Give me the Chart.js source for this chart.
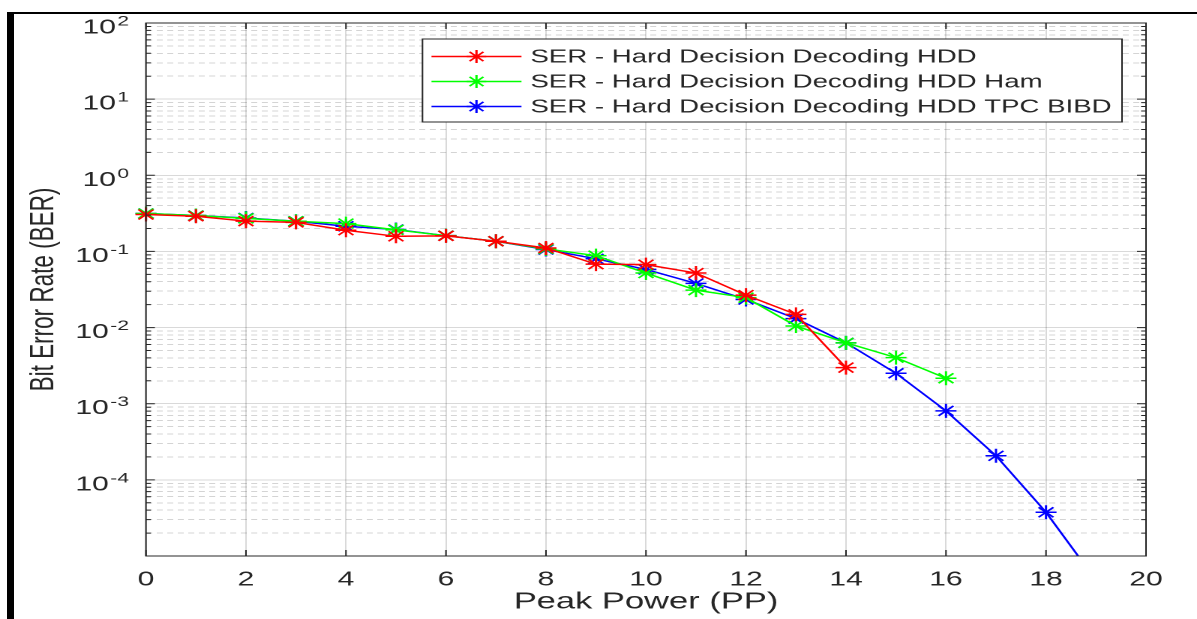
<!DOCTYPE html>
<html>
<head>
<meta charset="utf-8">
<script src="https://cdn.jsdelivr.net/npm/chart.js@4.4.1/dist/chart.umd.min.js"></script>
<style>
  html, body { margin: 0; padding: 0; background: #fff; }
  body { width: 1197px; height: 619px; overflow: hidden; position: relative; }
  .frame { position: absolute; left: 7px; top: 12px; right: 0; bottom: 0;
           border-left: 7px solid #000; border-top: 2px solid #000; }
  #berChart { position: absolute; left: 0; top: 0; transform-origin: 0 0; transform: scaleX(1.5); }
</style>
</head>
<body>
<div class="frame"></div>
<canvas id="berChart" width="798" height="619"></canvas>
<script>
// the original figure is stretched sideways, so draw it narrow and stretch it (see css)

const peakPower = [0, 1, 2, 3, 4, 5, 6, 7, 8, 9, 10, 11, 12, 13, 14, 15, 16, 17, 18, 19];

const berHdd = [0.305, 0.29, 0.25, 0.241, 0.19, 0.158, 0.16, 0.136, 0.111, 0.068, 0.067, 0.052, 0.0267, 0.0149, 0.00298];
const berHam = [0.315, 0.296, 0.272, 0.249, 0.232, 0.192, 0.161, 0.136, 0.108, 0.088, 0.052, 0.031, 0.0247, 0.0105, 0.0063, 0.00403, 0.00216];
const berTpc = [0.315, 0.296, 0.275, 0.249, 0.214, 0.194, 0.161, 0.136, 0.106, 0.080, 0.058, 0.038, 0.0234, 0.0131, 0.0063, 0.00251, 0.000805, 0.000207, 0.0000375, 0.0000048];

const xTicks = [0, 2, 4, 6, 8, 10, 12, 14, 16, 18, 20];
const yDecades = [1e-5, 1e-4, 1e-3, 1e-2, 1e-1, 1e0, 1e1, 1e2];
const yLabelValues = [1e-4, 1e-3, 1e-2, 1e-1, 1e0, 1e1, 1e2];
const yLabelExps = ['-4', '-3', '-2', '-1', '0', '1', '2'];

// 2..9 inside every decade
const yMinor = [];
for (let i = 0; i < yDecades.length - 1; i++) {
    for (let k = 2; k <= 9; k++) yMinor.push(k * yDecades[i]);
}

const fontFam = '"Liberation Sans", Arial, Helvetica, sans-serif';
const axisColor = '#262626';
const gridMajor = 'rgba(0,0,0,0.15)';
const gridMinor = 'rgba(0,0,0,0.17)';

function toPoints(vals) {
    return vals.map((v, i) => ({ x: peakPower[i], y: v }));
}

function drawStar(ctx, cx, cy, r) {
    ctx.beginPath();
    for (let k = 0; k < 4; k++) {
        const a = k * Math.PI / 4;
        ctx.moveTo(cx - r * Math.cos(a), cy - r * Math.sin(a));
        ctx.lineTo(cx + r * Math.cos(a), cy + r * Math.sin(a));
    }
    ctx.stroke();
}

//////////////// box, inward ticks, 10^n labels

const matlabAxes = {
    id: 'matlabAxes',
    afterDatasetsDraw(chart) {
        const { ctx, chartArea: a, scales } = chart;
        const x = scales.x, y = scales.y;
        ctx.save();
        ctx.strokeStyle = axisColor;
        ctx.lineWidth = 1;
        ctx.beginPath();
        xTicks.forEach(v => {
            const px = x.getPixelForValue(v);
            ctx.moveTo(px, a.bottom); ctx.lineTo(px, a.bottom - 6);
            ctx.moveTo(px, a.top); ctx.lineTo(px, a.top + 6);
        });
        yDecades.forEach(v => {
            const py = y.getPixelForValue(v);
            ctx.moveTo(a.left, py); ctx.lineTo(a.left + 6, py);
            ctx.moveTo(a.right, py); ctx.lineTo(a.right - 6, py);
        });
        yMinor.forEach(v => {
            const py = y.getPixelForValue(v);
            ctx.moveTo(a.left, py); ctx.lineTo(a.left + 3.3, py);
            ctx.moveTo(a.right, py); ctx.lineTo(a.right - 3.3, py);
        });
        ctx.stroke();
        ctx.strokeRect(a.left, a.top, a.right - a.left, a.bottom - a.top);

        ctx.fillStyle = axisColor;
        ctx.textBaseline = 'alphabetic';
        ctx.textAlign = 'left';
        const rightEdge = a.left - 11.3;
        yLabelValues.forEach((v, i) => {
            const py = y.getPixelForValue(v);
            ctx.font = '14px ' + fontFam;
            const we = ctx.measureText(yLabelExps[i]).width;
            ctx.fillText(yLabelExps[i], rightEdge - we, py + 2.5);
            ctx.font = '20px ' + fontFam;
            const wb = ctx.measureText('10').width;
            ctx.fillText('10', rightEdge - we - wb - 1, py + 10.5);
        });
        ctx.restore();
    }
};

//////////////// legend in the top right corner

const legendBox = {
    id: 'legendBox',
    afterDraw(chart) {
        const { ctx, chartArea: a } = chart;
        const sets = chart.data.datasets;
        ctx.save();
        ctx.font = '18.4px ' + fontFam;
        const textW = Math.max(...sets.map(d => ctx.measureText(d.label).width));
        const w = 72 + textW + 7, h = 83;
        const left = a.right - 16 - w, top = a.top + 16;
        ctx.fillStyle = '#fff';
        ctx.fillRect(left, top, w, h);
        ctx.strokeStyle = axisColor;
        ctx.lineWidth = 1;
        ctx.strokeRect(left, top, w, h);
        sets.forEach((d, i) => {
            const cy = top + 17.5 + i * 25;
            ctx.strokeStyle = d.borderColor;
            ctx.lineWidth = 1.5;
            ctx.beginPath();
            ctx.moveTo(left + 6, cy); ctx.lineTo(left + 66, cy);
            ctx.stroke();
            drawStar(ctx, left + 36, cy, 6.5);
            ctx.fillStyle = axisColor;
            ctx.textBaseline = 'middle';
            ctx.fillText(d.label, left + 72, cy + 1);
        });
        ctx.restore();
    }
};

function lineSet(label, vals, color) {
    return {
        label: label,
        data: toPoints(vals),
        borderColor: color,
        backgroundColor: color,
        borderWidth: 1.5,
        pointStyle: 'star',
        pointRadius: 7,
        pointBorderWidth: 1.5,
        pointBorderColor: color,
        fill: false,
        tension: 0,
        xAxisID: 'x',
        yAxisID: 'y',
        clip: { left: 12, right: 12, top: 12, bottom: 0 }
    };
}

new Chart(document.getElementById('berChart'), {
    type: 'line',
    data: {
        datasets: [
            lineSet('SER - Hard Decision Decoding HDD', berHdd, '#ff0000'),
            lineSet('SER - Hard Decision Decoding HDD Ham', berHam, '#00ff00'),
            lineSet('SER - Hard Decision Decoding HDD TPC BIBD', berTpc, '#0000ff')
        ]
    },
    options: {
        responsive: false,
        devicePixelRatio: 2,
        animation: false,
        layout: { padding: { left: 0, right: 34, top: 23, bottom: 0 } },
        plugins: {
            legend: { display: false },
            tooltip: { enabled: false }
        },
        scales: {
            x: {
                type: 'linear',
                min: 0,
                max: 20,
                afterBuildTicks: s => { s.ticks = xTicks.map(v => ({ value: v })); },
                grid: { color: gridMajor, drawTicks: false },
                border: { display: false },
                ticks: { padding: 12, color: axisColor, font: { family: fontFam, size: 20 } },
                title: {
                    display: true, text: 'Peak Power (PP)', color: axisColor,
                    font: { family: fontFam, size: 23 }, padding: { top: 0, bottom: 3 }
                },
                afterFit: s => { s.height = 63; }
            },
            y: {
                type: 'logarithmic',
                min: 1e-5,
                max: 100,
                afterBuildTicks: s => { s.ticks = yMinor.map(v => ({ value: v })); },
                grid: { color: gridMinor, drawTicks: false },
                border: { display: false, dash: [4, 3] },
                ticks: { display: false },
                title: {
                    display: true, text: 'Bit Error Rate (BER)', color: axisColor,
                    font: { family: fontFam, size: 22.5 }, padding: { top: 16, bottom: 0 }
                },
                afterFit: s => { s.width = 97.3; }
            },
            yMajor: {
                type: 'logarithmic',
                position: 'left',
                min: 1e-5,
                max: 100,
                afterBuildTicks: s => { s.ticks = yDecades.map(v => ({ value: v })); },
                grid: { color: gridMajor, drawTicks: false },
                border: { display: false },
                ticks: { display: false },
                afterFit: s => { s.width = 0; }
            }
        }
    },
    plugins: [matlabAxes, legendBox]
});
</script>
</body>
</html>
